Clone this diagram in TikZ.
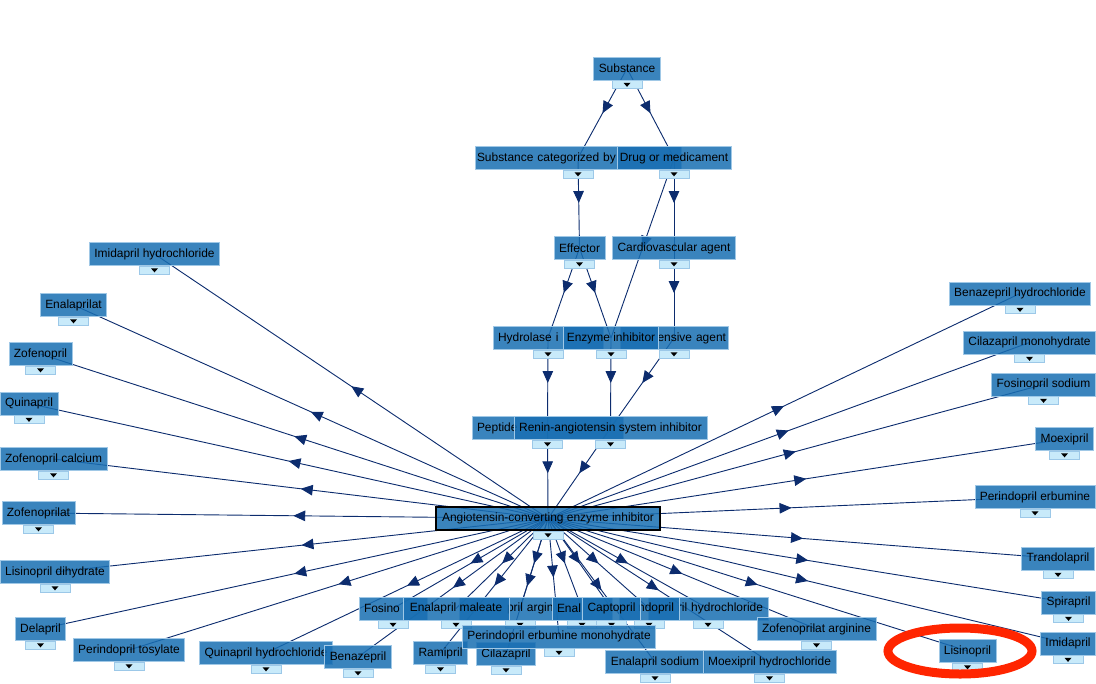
\documentclass[tikz,border=0pt]{standalone}
\usepackage{fontspec}
\setmainfont{Liberation Sans}
\usetikzlibrary{arrows.meta,decorations.markings,backgrounds}
\definecolor{termBlue}{HTML}{186EB2}
\definecolor{termLine}{HTML}{A0C8E6}
\definecolor{tgFill}{HTML}{C8EAFA}
\definecolor{tgLine}{HTML}{9CC8E8}
\definecolor{edgeNavy}{HTML}{0C2C6E}
\definecolor{ringRed}{HTML}{FF2500}
\newdimen\upx \upx=0.025cm

\begin{document}
\begin{tikzpicture}[x=1\upx, y=-1\upx,
    toggle/.style={rectangle, fill=tgFill, fill opacity=1, draw=tgLine, line width=0.4pt, minimum width=30\upx, minimum height=8\upx, inner sep=0pt,
        path picture={\fill[black] ([xshift=-3.5\upx,yshift=1.8\upx]path picture bounding box.center) -- ++(7\upx,0) -- ++(-3.5\upx,-4\upx) -- cycle;}},
    term/.style={rectangle, fill=termBlue, fill opacity=0.85, text opacity=1, draw=termLine, line width=0.5pt, text=black, minimum height=23\upx, inner xsep=5\upx, inner ysep=0pt, font=\fontsize{8.5}{10}\selectfont, label={[toggle]below:{}}},
    link/.style={draw=edgeNavy, line width=0.65pt, postaction={decorate}, decoration={markings, mark=at position 0.5 with {\arrow[edgeNavy]{Triangle[length=8.5pt, width=7.5pt]}}}},
    ring/.style={draw=ringRed, line width=9\upx}
]
    \useasboundingbox (0,0) rectangle (1096,683);

    % Hierarchy above the class
    \node[term] (substance) at (627,68.5) {Substance};
    \node[term, inner xsep=2\upx, text width=202\upx, align=left] (subcat) at (578,158) {Substance categorized by};
    \node[term, inner xsep=3\upx] (drug) at (674,158) {Drug or medicament};
    \node[term] (effector) at (579.5,248) {Effector};
    \node[term] (cardio) at (674,248) {Cardiovascular agent};
    \node[term, text width=100\upx, align=left] (hydrolase) at (548,338) {Hydrolase i};
    \node[term, inner xsep=2\upx, text width=104\upx, align=right] (antihyp) at (674,338) {ensive agent};
    \node[term, inner xsep=3\upx] (enzyme) at (611,338) {Enzyme inhibitor};
    \node[term, text width=141\upx, align=left] (peptide) at (547.5,428) {Peptide};
    \node[term] (renin) at (610.5,428) {Renin-angiotensin system inhibitor};
    \node[term, draw=black, line width=1.2pt, minimum width=224\upx] (ace) at (548,518.5) {Angiotensin-converting enzyme inhibitor};

    % Left column
    \node[term] (imidaprilhcl) at (154.5,254) {Imidapril hydrochloride};
    \node[term] (enalaprilat) at (73.5,305) {Enalaprilat};
    \node[term] (zofenopril) at (40.5,354) {Zofenopril};
    \node[term] (quinapril) at (29,403.5) {Quinapril};
    \node[term] (zofenoprilca) at (53.5,459) {Zofenopril calcium};
    \node[term] (zofenoprilat) at (38.5,513) {Zofenoprilat};
    \node[term] (lisinoprildh) at (55,572) {Lisinopril dihydrate};
    \node[term] (delapril) at (40.5,629) {Delapril};
    \node[term] (perindopriltos) at (129,650) {Perindopril tosylate};

    % Right column
    \node[term] (benazeprilhcl) at (1020,293.5) {Benazepril hydrochloride};
    \node[term] (cilazaprilmh) at (1029.5,342.5) {Cilazapril monohydrate};
    \node[term] (fosinoprilna) at (1043.5,384.5) {Fosinopril sodium};
    \node[term] (moexipril) at (1064.5,439) {Moexipril};
    \node[term] (perindoprilerb) at (1035,497) {Perindopril erbumine};
    \node[term] (trandolapril) at (1058,558.5) {Trandolapril};
    \node[term] (spirapril) at (1068.5,602.5) {Spirapril};
    \node[term] (imidapril) at (1068,643.5) {Imidapril};
    \node[term] (lisinopril) at (967.5,651) {Lisinopril};

    % Bottom cluster
    \node[term, text width=58\upx, align=left] (fosinopril) at (393,608.5) {Fosino};
    \node[term, text width=112\upx, align=left] (perindoprilarg) at (520,608.5) {\hspace*{43\upx}pril argin};
    \node[term, minimum width=106\upx] (enalaprilmal) at (456,608.5) {Enalapril maleate};
    \node[term, text width=50\upx, align=left] (enalapril) at (582,608.5) {Enal};
    \node[term, text width=110\upx, align=right] (hydrochloride) at (708,608.5) {ril hydrochloride};
    \node[term, text width=50\upx, align=right] (perindopril) at (649,608.5) {ndopril};
    \node[term] (captopril) at (611.5,608.5) {Captopril};
    \node[term] (zofenoprilatarg) at (816.5,629) {Zofenoprilat arginine};
    \node[term] (quinaprilhcl) at (266,653) {Quinapril hydrochloride};
    \node[term] (benazepril) at (358,657) {Benazepril};
    \node[term] (ramipril) at (440.5,653) {Ramipril};
    \node[term] (cilazapril) at (506,654) {Cilazapril};
    \node[term] (perindoprilmh) at (559,636.5) {Perindopril erbumine monohydrate};
    \node[term] (enalaprilna) at (655,662) {Enalapril sodium};
    \node[term] (moexiprilhcl) at (769.5,662) {Moexipril hydrochloride};

    \begin{scope}[on background layer]
        % Hierarchy links
        \draw[link] (substance.center) -- (subcat.center);
        \draw[link] (substance.center) -- (drug.center);
        \draw[link] (subcat.center) -- (effector.center);
        \draw[link] (drug.center) -- (cardio.center);
        \draw[link] (drug.center) -- (enzyme.center);
        \draw[link] (effector.center) -- (hydrolase.center);
        \draw[link] (effector.center) -- (enzyme.center);
        \draw[link] (cardio.center) -- (antihyp.center);
        \draw[link] (hydrolase.center) -- (peptide.center);
        \draw[link] (enzyme.center) -- (renin.center);
        \draw[link] (antihyp.center) -- (renin.center);
        \draw[link] (peptide.center) -- (ace.center);
        \draw[link] (renin.center) -- (ace.center);

        % Links to the left
        \draw[link] (ace.center) -- (imidaprilhcl.center);
        \draw[link] (ace.center) -- (enalaprilat.center);
        \draw[link] (ace.center) -- (zofenopril.center);
        \draw[link] (ace.center) -- (quinapril.center);
        \draw[link] (ace.center) -- (zofenoprilca.center);
        \draw[link] (ace.center) -- (zofenoprilat.center);
        \draw[link] (ace.center) -- (lisinoprildh.center);
        \draw[link] (ace.center) -- (delapril.center);
        \draw[link] (ace.center) -- (perindopriltos.center);

        % Links to the right
        \draw[link] (ace.center) -- (benazeprilhcl.center);
        \draw[link] (ace.center) -- (cilazaprilmh.center);
        \draw[link] (ace.center) -- (fosinoprilna.center);
        \draw[link] (ace.center) -- (moexipril.center);
        \draw[link] (ace.center) -- (perindoprilerb.center);
        \draw[link] (ace.center) -- (trandolapril.center);
        \draw[link] (ace.center) -- (spirapril.center);
        \draw[link] (ace.center) -- (imidapril.center);
        \draw[link] (ace.center) -- (lisinopril.center);

        % Links downwards
        \draw[link] (ace.center) -- (fosinopril.center);
        \draw[link] (ace.center) -- (enalaprilmal.center);
        \draw[link] (ace.center) -- (perindoprilarg.center);
        \draw[link] (ace.center) -- (enalapril.center);
        \draw[link] (ace.center) -- (captopril.center);
        \draw[link] (ace.center) -- (perindopril.center);
        \draw[link] (ace.center) -- (hydrochloride.center);
        \draw[link] (ace.center) -- (zofenoprilatarg.center);
        \draw[link] (ace.center) -- (quinaprilhcl.center);
        \draw[link] (ace.center) -- (benazepril.center);
        \draw[link] (ace.center) -- (ramipril.center);
        \draw[link] (ace.center) -- (cilazapril.center);
        \draw[link] (ace.center) -- (perindoprilmh.center);
        \draw[link] (ace.center) -- (enalaprilna.center);
        \draw[link] (ace.center) -- (moexiprilhcl.center);
    \end{scope}

    % Highlight
    \draw[ring] ([xshift=-7.5\upx]lisinopril.center) ellipse [x radius=72\upx, y radius=23\upx];
\end{tikzpicture}
\end{document}
